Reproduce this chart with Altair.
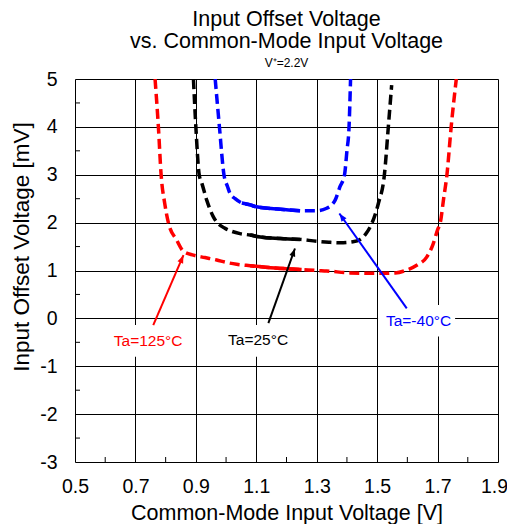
import math
import altair as alt
import pandas as pd

FONT = "Liberation Sans"

# ---- data ----
red_x = [0.765, 0.776, 0.785, 0.797, 0.809, 0.837, 0.859, 0.892, 0.930, 0.969, 1.000, 1.035, 1.080,
         1.130, 1.190, 1.250, 1.300, 1.333, 1.410, 1.500, 1.560, 1.598, 1.631, 1.664, 1.684, 1.700,
         1.709, 1.720, 1.731, 1.745, 1.762]
red_y = [5.00, 4.00, 3.00, 2.40, 2.00, 1.63, 1.40, 1.32, 1.27, 1.22, 1.17, 1.13, 1.10,
         1.07, 1.04, 1.02, 1.00, 0.99, 0.95, 0.94, 0.95, 1.01, 1.11, 1.28, 1.53, 1.85,
         2.00, 2.50, 3.00, 4.00, 5.00]

black_x = [0.892, 0.900, 0.911, 0.920, 0.936, 0.958, 0.975, 0.997, 1.046, 1.080, 1.113, 1.180, 1.245,
           1.300, 1.340, 1.377, 1.420, 1.444, 1.462, 1.477, 1.504, 1.524, 1.537, 1.548]
black_y = [5.00, 4.00, 3.00, 2.82, 2.47, 2.12, 1.97, 1.88, 1.77, 1.74, 1.70, 1.67, 1.65,
           1.61, 1.59, 1.58, 1.60, 1.65, 1.76, 1.91, 2.40, 3.00, 4.00, 4.87]

blue_x = [0.964, 0.978, 0.993, 1.005, 1.013, 1.030, 1.052, 1.080, 1.100, 1.180, 1.245, 1.300,
          1.333, 1.350, 1.361, 1.377, 1.392, 1.400, 1.407, 1.412]
blue_y = [5.00, 4.00, 3.00, 2.75, 2.61, 2.50, 2.41, 2.37, 2.33, 2.28, 2.25, 2.25,
          2.30, 2.37, 2.47, 2.75, 3.00, 3.50, 4.00, 5.00]

series_names = ["Ta=125°C", "Ta=25°C", "Ta=-40°C"]
series_colors = ["#FF0000", "#000000", "#0000FF"]
solid_from = 1.05
solid_to = 1.25

# annotation labels
label_x = [0.742, 1.106, 1.637]
label_y = [-0.47, -0.45, -0.06]
# white boxes behind labels
box_x1 = [0.616, 0.990, 1.503]
box_x2 = [0.864, 1.219, 1.758]
box_y1 = [-0.14, -0.14, 0.28]
box_y2 = [-0.80, -0.80, -0.38]
# arrows (start -> tip)
arrow_x1 = [0.759, 1.140, 1.598]
arrow_y1 = [-0.14, -0.10, 0.21]
arrow_x2 = [0.859, 1.228, 1.375]
arrow_y2 = [1.32, 1.46, 2.19]

x_ticks = [0.5, 0.7, 0.9, 1.1, 1.3, 1.5, 1.7, 1.9]
x_minor = [0.6, 0.8, 1.0, 1.2, 1.4, 1.6, 1.8]
y_ticks = [-3, -2, -1, 0, 1, 2, 3, 4, 5]
y_minor = [-2.5, -1.5, -0.5, 0.5, 1.5, 2.5, 3.5, 4.5]

W, H = 423, 383
X_DOM = [0.5, 1.9]
Y_DOM = [-3, 5]

# ---- build tables ----
rows = []
for name, col, xs, ys in zip(series_names, series_colors,
                             [red_x, black_x, blue_x], [red_y, black_y, blue_y]):
    for i, (xv, yv) in enumerate(zip(xs, ys)):
        rows.append({"series": name, "color": col, "i": i, "x": xv, "y": yv})
curves = pd.DataFrame(rows)
solid = curves[(curves.x >= solid_from - 1e-9) & (curves.x <= solid_to + 1e-9)]

px_x = W / (X_DOM[1] - X_DOM[0])
px_y = H / (Y_DOM[1] - Y_DOM[0])
ann = pd.DataFrame({
    "label": series_names, "color": series_colors,
    "lx": label_x, "ly": label_y,
    "bx1": box_x1, "bx2": box_x2, "by1": box_y1, "by2": box_y2,
    "ax1": arrow_x1, "ay1": arrow_y1, "ax2": arrow_x2, "ay2": arrow_y2,
})
ann["angle"] = [
    math.degrees(math.atan2((x2 - x1) * px_x, (y2 - y1) * px_y)) % 360
    for x1, y1, x2, y2 in zip(arrow_x1, arrow_y1, arrow_x2, arrow_y2)
]

xscale = alt.Scale(domain=X_DOM, nice=False, zero=False)
yscale = alt.Scale(domain=Y_DOM, nice=False, zero=False)

x_axis = alt.Axis(values=x_ticks, format=".1f", grid=True, gridColor="black", gridOpacity=1,
                  gridWidth=1, ticks=False, tickSize=0, domain=False,
                  labelFontSize=19.5, labelFont=FONT, labelColor="black", labelPadding=15,
                  labelFlush=False, labelOverlap=False,
                  labelOffset={"condition": {"test": "datum.value >= 1.85", "value": -4}, "value": 0},
                  title="Common-Mode Input Voltage [V]", titleFont=FONT, titleFontSize=21.5,
                  titleFontWeight="normal", titleColor="black", titleBaseline="alphabetic",
                  titleY=57)
y_axis = alt.Axis(values=y_ticks, labelExpr="'' + datum.value", grid=True, gridColor="black",
                  gridOpacity=1, gridWidth=1, ticks=False, tickSize=0, domain=False,
                  labelFontSize=19.5, labelFont=FONT, labelColor="black", labelPadding=18,
                  labelFlush=False, labelOverlap=False,
                  title="Input Offset Voltage [mV]", titleFont=FONT, titleFontSize=22.5,
                  titleFontWeight="normal", titleColor="black", titleAngle=-90,
                  titleX=-54, titleY=167.5, titleAlign="center", titleBaseline="middle")

X = alt.X("x:Q", scale=xscale, axis=x_axis)
Y = alt.Y("y:Q", scale=yscale, axis=y_axis)

base_curves = alt.Chart(curves)
dashed = base_curves.mark_line(strokeWidth=3.5, strokeDash=[10, 5], interpolate="monotone",
                               clip=True).encode(
    x=X, y=Y, color=alt.Color("color:N", scale=None), detail="series:N", order="i:Q")
solid_line = alt.Chart(solid).mark_line(strokeWidth=3.5, interpolate="monotone").encode(
    x="x:Q", y="y:Q", color=alt.Color("color:N", scale=None), detail="series:N", order="i:Q")

boxes = alt.Chart(ann).mark_rect(color="white").encode(
    x="bx1:Q", x2="bx2", y="by1:Q", y2="by2")
arrows = alt.Chart(ann).mark_rule(strokeWidth=2).encode(
    x="ax1:Q", y="ay1:Q", x2="ax2", y2="ay2", color=alt.Color("color:N", scale=None))
heads = alt.Chart(ann).mark_point(shape="M0,0 L-0.38,1 L0.38,1 Z", filled=True, size=256,
                                  opacity=1).encode(
    x="ax2:Q", y="ay2:Q", angle=alt.Angle("angle:Q", scale=None),
    color=alt.Color("color:N", scale=None))
texts = alt.Chart(ann).mark_text(font=FONT, fontSize=15.5, align="center", baseline="middle").encode(
    x="lx:Q", y="ly:Q", text="label:N", color=alt.Color("color:N", scale=None))

xminor = alt.Chart(pd.DataFrame({"v": x_minor})).mark_rule(color="black", strokeWidth=1).encode(
    x="v:Q", y=alt.value(H), y2=alt.value(H - 5))
yminor = alt.Chart(pd.DataFrame({"v": y_minor})).mark_rule(color="black", strokeWidth=1).encode(
    y="v:Q", x=alt.value(0), x2=alt.value(5))

chart = alt.layer(dashed, solid_line, boxes, arrows, heads, texts, xminor, yminor).properties(
    width=W, height=H,
    autosize=alt.AutoSizeParams(type="none"),
    padding={"left": 67, "top": 71, "right": 9, "bottom": 62},
    title=alt.TitleParams(
        text=["Input Offset Voltage", "vs. Common-Mode Input Voltage"],
        subtitle="V⁺=2.2V", font=FONT, fontSize=21.5, fontWeight="normal", color="black",
        lineHeight=22, subtitleFont=FONT, subtitleFontSize=12, subtitleColor="black",
        subtitlePadding=6, anchor="middle", frame="group", offset=0),
).configure_view(stroke="black", strokeWidth=2).configure(background="white")

chart.save("out.html", embed_options={"renderer": "svg", "actions": False})
